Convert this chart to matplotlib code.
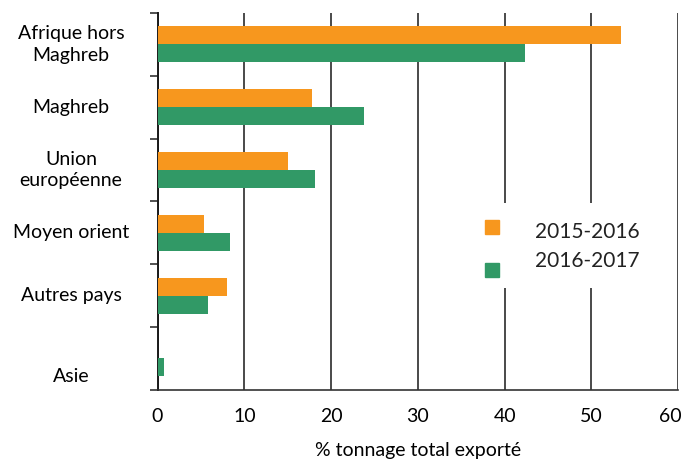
import matplotlib.pyplot as plt
import matplotlib.patches as patches
import matplotlib.transforms as mtransforms
import numpy as np

plt.rcParams['font.family'] = ['Lato', 'DejaVu Sans']

# Data
categories = ["Afrique hors\nMaghreb", "Maghreb", "Union\neuropéenne",
              "Moyen orient", "Autres pays", "Asie"]
values_2015 = [53.4, 17.8, 15.0, 5.4, 8.0, 0.0]
values_2016 = [42.3, 23.8, 18.2, 8.4, 5.8, 0.7]
series_labels = ["2015-2016", "2016-2017"]
colors = ["#f7971e", "#319966"]

fig = plt.figure(figsize=(6.85, 4.63), dpi=100)
ax = fig.add_axes([0.230, 0.158, 0.760, 0.814])

y = np.arange(len(categories))
h = 0.287
ax.barh(y - h / 2, values_2015, height=h, color=colors[0], zorder=3)
ax.barh(y + h / 2, values_2016, height=h, color=colors[1], zorder=3)

ax.set_ylim(len(categories) - 0.5, -0.5)
ax.set_xlim(0, 60)
ax.set_xticks(np.arange(0, 61, 10))
ax.tick_params(axis='x', length=0, labelsize=14, pad=13)
# last label sits a bit inside, as in the original
last = ax.get_xticklabels()[-1]
last.set_transform(last.get_transform() +
                   mtransforms.ScaledTranslation(-6 / 72, 0, fig.dpi_scale_trans))

# category labels centred to the left, ticks at category boundaries
ax.set_yticks(np.arange(-0.5, len(categories), 1))
ax.set_yticklabels([])
ax.tick_params(axis='y', length=6, width=1.2, color='#333333')
for i, (yi, cat) in enumerate(zip(y, categories)):
    dy = 0.28 if i == len(categories) - 1 else 0.0  # "Asie" sits low
    ax.text(-0.166, yi + dy, cat, transform=ax.get_yaxis_transform(),
            ha='center', va='center', fontsize=14, linespacing=1.35)

ax.grid(axis='x', color='#4a4a4a', linewidth=1.4, zorder=0)
for s in ['top', 'right']:
    ax.spines[s].set_visible(False)
ax.spines['left'].set_color('#1a1a1a')
ax.spines['left'].set_linewidth(1.4)
ax.spines['bottom'].set_color('#333333')
ax.spines['bottom'].set_linewidth(1.2)

ax.set_xlabel("% tonnage total exporté", fontsize=14, labelpad=12)

# legend drawn by hand: white box hiding the gridlines, markers and texts
# are not aligned in the original
ax.add_patch(patches.Rectangle((0.60, 0.271), 0.365, 0.225, transform=ax.transAxes,
                               facecolor='white', edgecolor='none', zorder=2))
marker_y = [0.432, 0.318]
text_y = [0.419, 0.342]
for c, lab, my, ty in zip(colors, series_labels, marker_y, text_y):
    ax.plot([0.643], [my], marker='s', markersize=10.5, color=c,
            linestyle='none', transform=ax.transAxes, clip_on=False, zorder=4)
    ax.text(0.725, ty, lab, transform=ax.transAxes, ha='left', va='center',
            fontsize=15, color='#222222', zorder=4)

fig.savefig("out.png", dpi=100)
